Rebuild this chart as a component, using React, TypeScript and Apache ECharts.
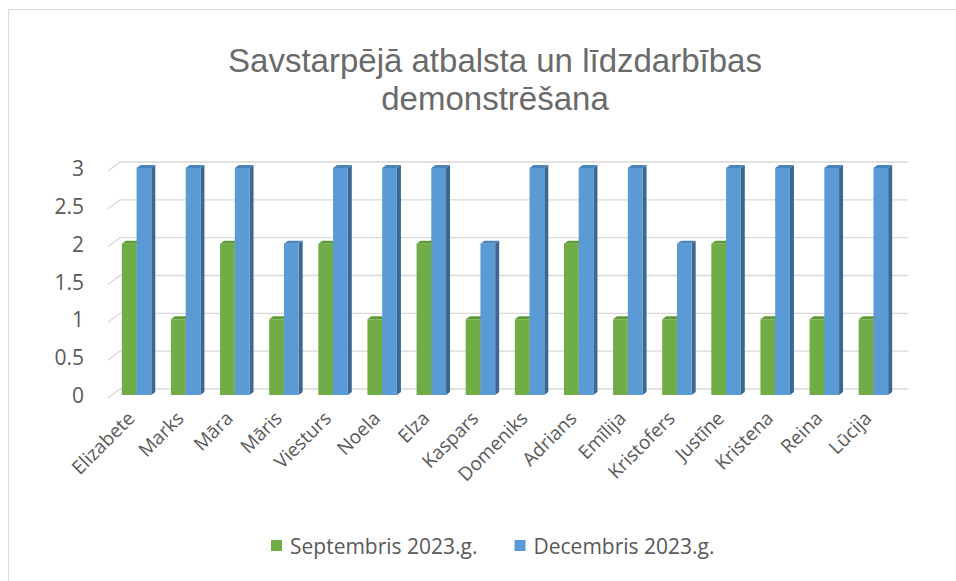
import React, { useEffect, useRef } from "react";
import * as echarts from "echarts";

const categories = [
  "Elizabete", "Marks", "Māra", "Māris", "Viesturs", "Noela", "Elza", "Kaspars",
  "Domeniks", "Adrians", "Emīlija", "Kristofers", "Justīne", "Kristena", "Reina", "Lūcija",
];
const septembris = [2, 1, 2, 1, 2, 1, 2, 1, 1, 2, 1, 1, 2, 1, 1, 1];
const decembris = [3, 3, 3, 2, 3, 3, 3, 2, 3, 3, 3, 2, 3, 3, 3, 3];
const yTicks = [0, 0.5, 1, 1.5, 2, 2.5, 3];
const seriesNames = ["Septembris 2023.g.", "Decembris 2023.g."];
const titleLines = ["Savstarpējā atbalsta un līdzdarbības", "demonstrēšana"];

const FONT = "'Open Sans', sans-serif";
const TITLE_FONT = "'Liberation Sans', Arial, sans-serif";
const TEXT = "#595959";

const palette = [
  { front: "#70ad47", side: "#4e7a31", top: "#5f9a3a" },
  { front: "#5b9bd5", side: "#3b6790", top: "#4a84b8" },
];

function makeBarSeries(name: string, values: number[], idx: number) {
  const col = palette[idx];
  return {
    type: "custom",
    name,
    z: 3 + idx,
    itemStyle: { color: col.front },
    data: values.map((v, i) => [i, v]),
    encode: { x: 0, y: 1 },
    renderItem: (params: any, api: any) => {
      const ci = api.value(0);
      const v = api.value(1);
      const top = api.coord([ci, v]);
      const base = api.coord([ci, 0]);
      const bw = api.size([1, 0])[0] * 0.3;
      const x0 = idx === 0 ? top[0] - bw : top[0];
      const x1 = x0 + bw;
      const dx = 4;
      const dy = 3;
      return {
        type: "group",
        children: [
          {
            type: "polygon",
            shape: { points: [[x1, top[1]], [x1 + dx, top[1] - dy], [x1 + dx, base[1] - dy], [x1, base[1]]] },
            style: { fill: col.side },
          },
          {
            type: "polygon",
            shape: { points: [[x0, top[1]], [x0 + dx, top[1] - dy], [x1 + dx, top[1] - dy], [x1, top[1]]] },
            style: { fill: col.top },
          },
          {
            type: "rect",
            shape: { x: x0, y: top[1], width: bw, height: base[1] - top[1] },
            style: { fill: col.front },
          },
        ],
      };
    },
  };
}

export default function App() {
  const ref = useRef<HTMLDivElement>(null);
  useEffect(() => {
    if (!ref.current) return;
    const chart = echarts.init(ref.current, undefined, { renderer: "svg" });
    chart.setOption({
      animation: false,
      backgroundColor: "#ffffff",
      title: titleLines.map((t, i) => ({
        text: t,
        left: 490,
        textAlign: "center",
        top: 36 + i * 38,
        padding: [5, 5, 0, 5],
        textStyle: { fontFamily: TITLE_FONT, fontSize: 33, fontWeight: "normal", color: "#6a6a6a", lineHeight: 38 },
      })),
      graphic: [
        {
          type: "rect",
          shape: { x: 8.5, y: 9.5, width: 980, height: 620 },
          style: { fill: "none", stroke: "#d9d9d9", lineWidth: 1 },
          silent: true,
        },
      ],
      legend: {
        bottom: 20,
        left: 266,
        icon: "rect",
        itemWidth: 11,
        itemHeight: 11,
        itemGap: 37,
        data: seriesNames,
        textStyle: { fontFamily: FONT, fontSize: 21, color: TEXT, padding: [0, 0, 0, 3] },
      },
      grid: { left: 112, right: 58, top: 168, bottom: 186, containLabel: false },
      xAxis: {
        type: "category",
        data: categories,
        axisLine: { show: false },
        axisTick: { show: false },
        axisLabel: {
          rotate: 45,
          interval: 0,
          margin: 14,
          fontFamily: FONT,
          fontSize: 19,
          color: TEXT,
          padding: [0, 8, 0, 0],
        },
      },
      yAxis: {
        type: "value",
        min: 0,
        max: 3,
        interval: 0.5,
        splitLine: { show: false },
        axisLine: { show: false },
        axisTick: { show: false },
        axisLabel: {
          margin: 28,
          fontFamily: FONT,
          fontSize: 21,
          color: TEXT,
          padding: [6, 0, 0, 0],
        },
      },
      series: [
        {
          type: "custom",
          name: "grid",
          z: 1,
          silent: true,
          data: yTicks.map((v) => [0, v]),
          encode: { x: 0, y: 1 },
          renderItem: (params: any, api: any) => {
            const y = api.coord([0, api.value(1)])[1];
            const cs = params.coordSys;
            const left = cs.x;
            const right = cs.x + cs.width;
            return {
              type: "polyline",
              shape: { points: [[left - 4, y + 3], [left + 8, y - 6], [right + 10, y - 6]] },
              style: { stroke: "#d9d9d9", lineWidth: 1.3, fill: "none" },
            };
          },
        },
        makeBarSeries(seriesNames[0], septembris, 0),
        makeBarSeries(seriesNames[1], decembris, 1),
      ],
    });
    return () => chart.dispose();
  }, []);
  return (
    <div
      ref={ref}
      style={{ position: "fixed", left: 0, top: 0, width: 956, height: 581 }}
    />
  );
}
